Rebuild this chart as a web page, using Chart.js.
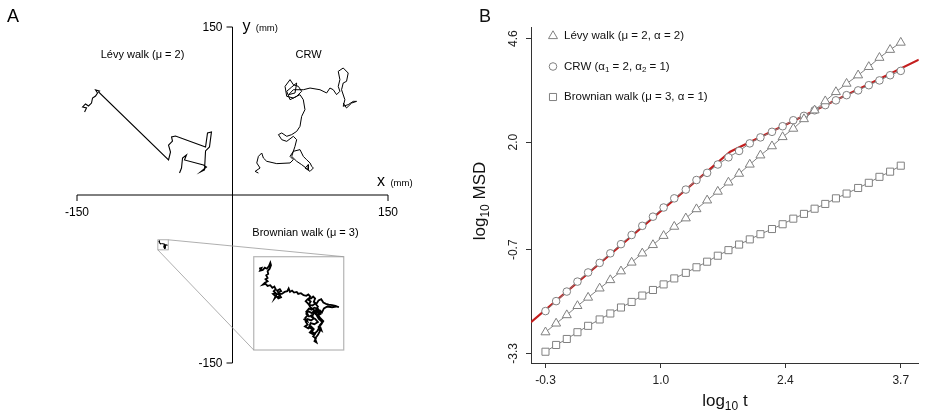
<!DOCTYPE html>
<html>
<head>
<meta charset="utf-8">
<script src="https://cdn.jsdelivr.net/npm/chart.js@4.4.1/dist/chart.umd.min.js"></script>
<style>
  html, body { margin: 0; padding: 0; background: #fff; }
  #wrap { position: relative; width: 925px; height: 412px; overflow: hidden; }
  .pane { position: absolute; top: 0; }
  canvas { display: block; }
</style>
</head>
<body>
<div id="wrap">
  <div class="pane" style="left:0"><canvas id="chartA" width="460" height="412"></canvas></div>
  <div class="pane" style="left:460px"><canvas id="chartB" width="465" height="412"></canvas></div>
  <div class="pane" id="insetPane"><canvas id="chartInset"></canvas></div>
</div>
<script>
var FONT = '"Liberation Sans", Arial, Helvetica, sans-serif';

// ---- Panel A : trajectories (mm) ----
var levyX = [-142.7,-140.8,-144.6,-141.8,-138.9,-136.0,-135.0,-132.1,-130.2,-132.1,-128.3,-129.2,-61.7,-59.8,-61.7,-57.9,-58.8,-55.0,-26.0,-24.1,-20.3,-22.2,-26.0,-27.0,-30.9,-25.1,-28.0,-46.3,-44.4,-48.2,-49.2,-51.1];
var levyY = [74.1,77.7,78.6,81.3,79.5,82.1,86.6,88.4,91.1,93.8,92.9,92.0,31.3,38.4,44.6,48.2,51.8,52.7,42.9,55.4,56.3,42.9,39.3,22.3,20.5,25.0,26.8,31.3,35.7,33.0,24.1,19.6];

var crwX = [25.0,21.8,26.6,23.4,25.0,28.2,29.8,33.0,42.7,55.5,58.7,55.5,58.7,65.1,68.3,71.5,74.8,76.4,78.0,74.8,69.9,73.1,73.1,66.7,61.9,57.1,60.3,61.9,58.7,52.3,47.5,44.3,47.5,52.3,57.1,61.9,65.1,66.7,69.9,68.3,65.1,58.7,52.3,50.7,55.5,58.7,63.5,66.7,61.9,55.5,52.3,57.1,61.9,60.3,54.2,58.7,68.3,74.8,84.4,90.8,94.0,97.2,100.4,103.6,102.0,103.6,102.0,106.8,111.6,110.0,106.8,105.2,108.4,106.8,111.6,116.5,119.7,114.9,110.0,106.8];
var crwY = [19.6,21.1,24.1,28.6,34.5,37.5,33.0,30.1,28.0,28.6,31.5,34.5,39.0,40.5,34.5,31.5,28.6,25.6,24.1,21.1,24.1,27.1,22.6,27.1,30.1,34.5,43.5,49.4,52.4,47.9,49.4,53.9,55.4,52.4,53.9,56.8,61.3,70.2,76.2,85.1,89.6,86.6,88.1,97.0,103.0,98.5,97.0,92.6,88.1,85.1,92.6,96.4,100.0,91.1,89.6,94.0,94.0,95.5,94.0,91.1,95.5,94.0,89.6,92.6,97.0,103.0,110.4,113.4,108.9,101.5,100.0,94.0,85.1,79.2,80.7,83.6,83.6,82.1,77.7,82.1];

var brownX = [-71.43,-71.17,-71.32,-71.02,-70.79,-70.57,-70.34,-70.19,-70.11,-70.26,
  -70.49,-70.42,-70.64,-70.49,-70.72,-70.49,-70.79,-71.02,-70.72,-70.49,
  -70.19,-69.96,-69.74,-69.58,-69.81,-69.58,-69.89,-69.66,-69.36,-69.13,
  -69.0,-69.3,-69.5,-69.7,-69.5,-69.2,
  -69.28,-68.98,-69.13,-69.43,-69.21,-68.91,-68.60,-68.30,-68.15,-68.00,
  -67.77,-67.55,-67.25,-67.09,-66.79,-66.49,-66.19,-65.96,-65.74,-65.96,
  -65.66,-65.43,-65.21,-65.36,-65.06,-64.83,-64.53,-64.30,-64.00,-63.70,
  -63.32,-62.94,-62.57,-62.87,-63.32,-63.85,-64.23,-64.45,-64.68,-64.98,
  -65.28,-65.58,-65.96,-66.19,-65.89,-65.58,-65.36,-65.66,-66.04,-66.26,
  -66.04,-66.34,-65.96,-65.66,-65.36,-65.58,-65.21,-65.43,-65.13,-65.28,
  -65.06,-65.21,-64.91,-64.68,-64.83,-64.53,-64.30,-64.60,-64.83,-65.13,
  -65.36,-65.74,-65.96,-66.26,-66.04,
  -65.7,-65.9,-65.5,-65.2,-64.9,-65.1,-64.7,-64.9,-65.3,-65.6,
  -65.2,-64.9,-65.3,-65.7,-65.9,-65.5,-65.8,-65.4,-65.0,-64.8,
  -64.5,-64.7,-64.4,-64.8,-65.0,-64.6,-64.9,-65.3,-65.6,-65.9,
  -66.2,-66.0,-66.3,-66.1,-66.5];
var brownY = [-41.13,-41.06,-41.32,-41.25,-41.03,-41.13,-40.87,-40.55,-40.80,-41.13,
  -41.38,-41.64,-41.77,-42.03,-42.15,-42.35,-42.48,-42.67,-42.60,-42.80,
  -42.73,-42.99,-42.86,-43.12,-43.31,-43.50,-43.57,-43.76,-43.89,-43.70,
  -43.9,-44.0,-43.8,-44.0,-43.6,-43.6,
  -43.44,-43.31,-43.12,-43.25,-43.57,-43.57,-43.38,-43.31,-43.05,-43.38,
  -43.25,-43.44,-43.38,-43.57,-43.50,-43.70,-43.76,-43.63,-43.83,-44.08,
  -44.02,-43.83,-44.02,-44.34,-44.53,-44.21,-44.08,-44.41,-44.53,-44.60,
  -44.66,-44.73,-44.86,-44.79,-44.86,-44.79,-44.98,-45.37,-45.18,-45.37,
  -45.18,-45.43,-45.24,-45.50,-45.76,-45.63,-45.95,-46.14,-46.01,-46.27,
  -46.53,-46.72,-46.91,-46.72,-46.98,-47.23,-47.43,-47.68,-47.88,-48.14,
  -48.26,-47.88,-47.56,-47.17,-46.78,-46.53,-46.21,-45.95,-45.69,-45.56,
  -45.11,-44.86,-44.53,-44.28,-44.08,
  -44.3,-44.6,-44.7,-44.5,-44.8,-45.1,-45.3,-45.6,-45.4,-45.8,
  -46.0,-46.3,-46.5,-46.4,-46.8,-47.0,-47.3,-47.5,-47.2,-46.9,
  -47.1,-46.6,-46.3,-46.0,-45.7,-45.5,-45.0,-44.9,-45.1,-45.0,
  -45.3,-45.6,-45.9,-46.2,-46.0];

var axisA = [-150, 150];
var zoomBoxX = [-72, -62], zoomBoxY = [-49, -40];       // region magnified
var insetBoxX = [20.5, 107.3], insetBoxY = [-138.4, -55.1]; // where the magnified view sits

// ---- Panel B : MSD ----
var logT = [-0.30,-0.18,-0.06,0.06,0.18,0.31,0.43,0.55,0.67,0.79,0.91,1.03,1.15,1.28,1.40,1.52,1.64,1.76,1.88,2.00,2.12,2.25,2.37,2.49,2.61,2.73,2.85,2.97,3.09,3.22,3.34,3.46,3.58,3.70];
var levyMSD = [-2.77,-2.55,-2.34,-2.11,-1.90,-1.67,-1.46,-1.24,-1.02,-0.79,-0.58,-0.35,-0.12,0.09,0.32,0.54,0.76,0.99,1.21,1.44,1.67,1.90,2.13,2.34,2.58,2.80,3.03,3.26,3.47,3.68,3.89,4.12,4.32,4.50];
var crwMSD = [-2.24,-1.99,-1.75,-1.50,-1.27,-1.03,-0.79,-0.56,-0.33,-0.10,0.13,0.36,0.59,0.81,1.05,1.23,1.44,1.62,1.78,1.97,2.12,2.26,2.40,2.55,2.66,2.80,2.93,3.05,3.18,3.30,3.43,3.55,3.68,3.79];
var brownMSD = [-3.26,-3.09,-2.94,-2.77,-2.61,-2.45,-2.30,-2.15,-2.01,-1.85,-1.71,-1.57,-1.42,-1.28,-1.14,-1.00,-0.85,-0.71,-0.57,-0.44,-0.31,-0.18,-0.06,0.08,0.20,0.33,0.45,0.59,0.71,0.85,0.98,1.13,1.26,1.41];
var fitT = [-0.463, 1.78, 3.903];
var fitMSD = [-2.52, 1.76, 4.07];
var xTicksB = [-0.3, 1.0, 2.4, 3.7];
var yTicksB = [4.6, 2.0, -0.7, -3.3];

function pts(xs, ys) {
  return xs.map(function(v, i) { return {x: v, y: ys[i]}; });
}

// draw a run of text pieces (for subscripts)
function drawParts(ctx, parts, x, y, align) {
  var total = 0;
  parts.forEach(function(p) {
    ctx.font = p.size + 'px ' + FONT;
    p.w = ctx.measureText(p.t).width;
    total += p.w;
  });
  var cx = align === 'center' ? x - total / 2 : x;
  parts.forEach(function(p) {
    ctx.font = p.size + 'px ' + FONT;
    ctx.fillText(p.t, cx, y + (p.dy || 0));
    cx += p.w;
  });
}

// Panel A decorations: crossing axes, labels, zoom box
var panelAPlugin = {
  id: 'panelA',
  afterDatasetsDraw: function(chart) {
    var ctx = chart.ctx, sx = chart.scales.x, sy = chart.scales.y;
    var X = function(v) { return sx.getPixelForValue(v); };
    var Y = function(v) { return sy.getPixelForValue(v); };
    ctx.save();
    ctx.strokeStyle = '#000';
    ctx.lineWidth = 1;
    ctx.beginPath();
    ctx.moveTo(X(axisA[0]), Y(0)); ctx.lineTo(X(axisA[1]), Y(0));
    ctx.moveTo(X(axisA[0]), Y(0)); ctx.lineTo(X(axisA[0]), Y(0) + 6);
    ctx.moveTo(X(axisA[1]), Y(0)); ctx.lineTo(X(axisA[1]), Y(0) + 6);
    ctx.moveTo(X(0), Y(axisA[1])); ctx.lineTo(X(0), Y(axisA[0]));
    ctx.moveTo(X(0), Y(axisA[1])); ctx.lineTo(X(0) - 6, Y(axisA[1]));
    ctx.moveTo(X(0), Y(axisA[0])); ctx.lineTo(X(0) - 6, Y(axisA[0]));
    ctx.stroke();

    ctx.fillStyle = '#000';
    ctx.font = '12px ' + FONT;
    ctx.textAlign = 'center';
    ctx.textBaseline = 'middle';
    ctx.fillText('-150', X(axisA[0]), Y(0) + 18);
    ctx.fillText('150', X(axisA[1]), Y(0) + 18);
    ctx.textAlign = 'right';
    ctx.fillText('150', X(0) - 10, Y(axisA[1]) + 1);
    ctx.fillText('-150', X(0) - 10, Y(axisA[0]) + 1);

    ctx.textAlign = 'left';
    ctx.textBaseline = 'alphabetic';
    drawParts(ctx, [{t: 'y', size: 16}, {t: '  (mm)', size: 9.5}], X(0) + 10, Y(axisA[1]) + 4, 'left');
    drawParts(ctx, [{t: 'x', size: 16}, {t: '  (mm)', size: 9.5}], X(139.5), Y(11.6) + 4, 'left');

    ctx.textAlign = 'center';
    ctx.textBaseline = 'middle';
    ctx.font = '11px ' + FONT;
    ctx.fillText('Lévy walk (μ = 2)', X(-86.8), Y(125));
    ctx.fillText('CRW', X(73.3), Y(125));
    ctx.fillText('Brownian walk (μ = 3)', X(70.4), Y(-33.9));

    // zoom box, inset frame and connectors
    ctx.strokeStyle = '#9a9a9a';
    ctx.lineWidth = 0.8;
    ctx.strokeRect(X(zoomBoxX[0]), Y(zoomBoxY[1]), X(zoomBoxX[1]) - X(zoomBoxX[0]), Y(zoomBoxY[0]) - Y(zoomBoxY[1]));
    ctx.strokeStyle = '#b5b5b5';
    ctx.lineWidth = 1.2;
    ctx.strokeRect(X(insetBoxX[0]), Y(insetBoxY[1]), X(insetBoxX[1]) - X(insetBoxX[0]), Y(insetBoxY[0]) - Y(insetBoxY[1]));
    ctx.strokeStyle = '#9a9a9a';
    ctx.lineWidth = 0.8;
    ctx.beginPath();
    ctx.moveTo(X(zoomBoxX[1]), Y(zoomBoxY[1])); ctx.lineTo(X(insetBoxX[1]), Y(insetBoxY[1]));
    ctx.moveTo(X(zoomBoxX[0]), Y(zoomBoxY[0])); ctx.lineTo(X(insetBoxX[0]), Y(insetBoxY[0]));
    ctx.stroke();

    ctx.fillStyle = '#000';
    ctx.textAlign = 'left';
    ctx.textBaseline = 'alphabetic';
    ctx.font = '18px ' + FONT;
    ctx.fillText('A', 7, 22);
    ctx.restore();
  }
};

var chartA = new Chart(document.getElementById('chartA'), {
  type: 'scatter',
  data: {
    datasets: [
      {data: pts(levyX, levyY), showLine: true, borderColor: '#000', borderWidth: 1.1, pointRadius: 0},
      {data: pts(crwX, crwY), showLine: true, borderColor: '#000', borderWidth: 1, pointRadius: 0},
      {data: pts(brownX, brownY), showLine: true, borderColor: '#000', borderWidth: 0.8, pointRadius: 0}
    ]
  },
  options: {
    responsive: false,
    animation: false,
    layout: {padding: {left: 77, right: 72, top: 27, bottom: 49}},
    scales: {
      x: {display: false, min: axisA[0], max: axisA[1]},
      y: {display: false, min: axisA[0], max: axisA[1]}
    },
    plugins: {legend: {display: false}, tooltip: {enabled: false}}
  },
  plugins: [panelAPlugin]
});

// the magnified Brownian walk sits on its own small chart over the inset frame
(function() {
  var sx = chartA.scales.x, sy = chartA.scales.y;
  var l = sx.getPixelForValue(insetBoxX[0]), r = sx.getPixelForValue(insetBoxX[1]);
  var t = sy.getPixelForValue(insetBoxY[1]), b = sy.getPixelForValue(insetBoxY[0]);
  var pane = document.getElementById('insetPane');
  pane.style.left = l + 'px';
  pane.style.top = t + 'px';
  var cv = document.getElementById('chartInset');
  cv.width = Math.round(r - l);
  cv.height = Math.round(b - t);
  new Chart(cv, {
    type: 'scatter',
    data: {datasets: [{data: pts(brownX, brownY), showLine: true, borderColor: '#000', borderWidth: 1.8, pointRadius: 0}]},
    options: {
      responsive: false,
      animation: false,
      layout: {padding: 0},
      scales: {
        x: {display: false, min: zoomBoxX[0], max: zoomBoxX[1]},
        y: {display: false, min: zoomBoxY[0], max: zoomBoxY[1]}
      },
      plugins: {legend: {display: false}, tooltip: {enabled: false}}
    }
  });
})();

// Panel B decorations: legend, rotated y labels, axis titles
var legendItems = [
  {style: 'triangle', r: 5.2, parts: [{t: 'Lévy walk (μ = 2, α = 2)', size: 11.5}]},
  {style: 'circle', r: 3.8, parts: [{t: 'CRW (α', size: 11.5}, {t: '1', size: 8, dy: 3}, {t: ' = 2, α', size: 11.5}, {t: '2', size: 8, dy: 3}, {t: ' = 1)', size: 11.5}]},
  {style: 'rect', r: 5, parts: [{t: 'Brownian walk (μ = 3, α = 1)', size: 11.5}]}
];

var panelBPlugin = {
  id: 'panelB',
  afterDraw: function(chart) {
    var ctx = chart.ctx, sy = chart.scales.y, area = chart.chartArea;
    ctx.save();
    // legend
    legendItems.forEach(function(it, i) {
      var y = 36 + i * 30.5;
      ctx.strokeStyle = '#808080';
      ctx.fillStyle = '#fff';
      ctx.lineWidth = 1;
      Chart.helpers.drawPoint(ctx, {pointStyle: it.style, radius: it.r, borderWidth: 1}, 93, y);
      ctx.fillStyle = '#111';
      ctx.textAlign = 'left';
      ctx.textBaseline = 'middle';
      drawParts(ctx, it.parts, 104, y, 'left');
    });
    // y tick labels, rotated as in the original
    ctx.fillStyle = '#222';
    ctx.font = '12px ' + FONT;
    ctx.textAlign = 'center';
    ctx.textBaseline = 'middle';
    yTicksB.forEach(function(v) {
      ctx.save();
      ctx.translate(area.left - 17, sy.getPixelForValue(v));
      ctx.rotate(-Math.PI / 2);
      ctx.fillText(v.toFixed(1), 0, 0);
      ctx.restore();
    });
    // axis titles
    ctx.fillStyle = '#111';
    ctx.textAlign = 'left';
    ctx.textBaseline = 'alphabetic';
    drawParts(ctx, [{t: 'log', size: 17}, {t: '10', size: 12, dy: 4}, {t: ' t', size: 17}], (area.left + area.right) / 2, 406, 'center');
    ctx.save();
    ctx.translate(25, (area.top + area.bottom) / 2 + 6);
    ctx.rotate(-Math.PI / 2);
    drawParts(ctx, [{t: 'log', size: 17}, {t: '10', size: 12, dy: 4}, {t: ' MSD', size: 17}], 0, 0, 'center');
    ctx.restore();
    ctx.font = '18px ' + FONT;
    ctx.fillText('B', 19, 22);
    ctx.restore();
  }
};

var markerSet = {color: '#808080', fill: '#fff'};

new Chart(document.getElementById('chartB'), {
  type: 'scatter',
  data: {
    datasets: [
      {data: pts(logT, levyMSD), showLine: true, borderColor: markerSet.color, borderWidth: 1,
       pointStyle: 'triangle', pointRadius: 5.2, pointBackgroundColor: markerSet.fill, pointBorderColor: markerSet.color, pointBorderWidth: 1},
      {data: pts(logT, crwMSD), showLine: true, borderColor: markerSet.color, borderWidth: 1,
       pointStyle: 'circle', pointRadius: 3.8, pointBackgroundColor: markerSet.fill, pointBorderColor: markerSet.color, pointBorderWidth: 1},
      {data: pts(logT, brownMSD), showLine: true, borderColor: markerSet.color, borderWidth: 1,
       pointStyle: 'rect', pointRadius: 5, pointBackgroundColor: markerSet.fill, pointBorderColor: markerSet.color, pointBorderWidth: 1},
      {data: pts(fitT, fitMSD), showLine: true, borderColor: '#c41e1e', borderWidth: 2.2, pointRadius: 0}
    ]
  },
  options: {
    responsive: false,
    animation: false,
    layout: {padding: {left: 0, right: 0, top: 27, bottom: 0}},
    scales: {
      x: {
        type: 'linear', min: -0.463, max: 3.903,
        afterBuildTicks: function(s) { s.ticks = xTicksB.map(function(v) { return {value: v}; }); },
        afterFit: function(s) { s.height = 49; },
        grid: {drawOnChartArea: false, drawTicks: true, tickLength: 5, color: '#333'},
        border: {display: true, color: '#333', width: 1},
        ticks: {callback: function(v) { return Number(v).toFixed(1); }, font: {size: 12, family: FONT}, color: '#222', padding: 5, maxRotation: 0, autoSkip: false}
      },
      y: {
        type: 'linear', min: -3.543, max: 4.891,
        afterBuildTicks: function(s) { s.ticks = yTicksB.map(function(v) { return {value: v}; }); },
        afterFit: function(s) { s.width = 71; },
        grid: {drawOnChartArea: false, drawTicks: true, tickLength: 5, color: '#333'},
        border: {display: true, color: '#333', width: 1},
        ticks: {display: false}
      }
    },
    plugins: {legend: {display: false}, tooltip: {enabled: false}}
  },
  plugins: [panelBPlugin]
});
</script>
</body>
</html>
